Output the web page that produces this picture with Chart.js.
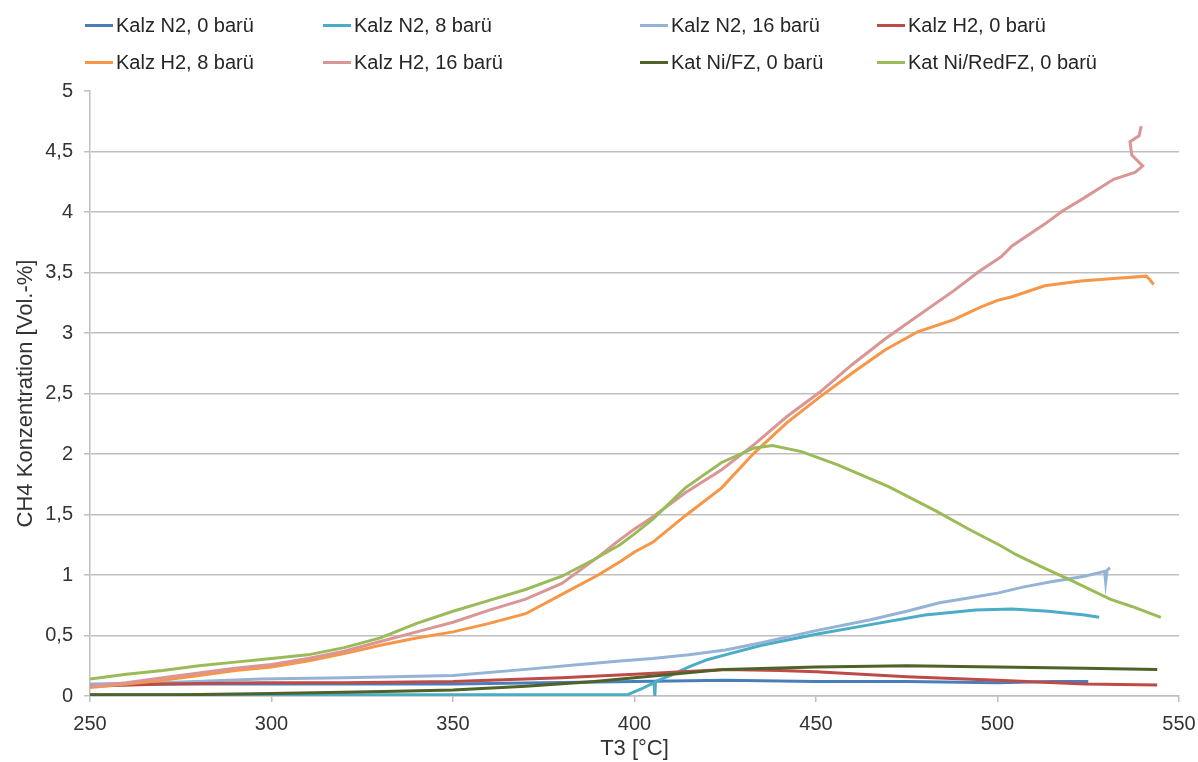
<!DOCTYPE html>
<html>
<head>
<meta charset="utf-8">
<script src="https://cdn.jsdelivr.net/npm/chart.js@4.4.1/dist/chart.umd.min.js"></script>
<style>
  body { margin: 0; background: #fff; font-family: 'Liberation Sans', Arial, sans-serif; }
  #wrap { position: relative; width: 1198px; height: 762px; }
  .leg { position: absolute; height: 24px; font-size: 20px; line-height: 24px; color: #262626; white-space: nowrap; display: flex; align-items: center; }
  .leg .sw { display: inline-block; width: 28px; height: 3px; margin-right: 3px; }
</style>
</head>
<body>
<div id="wrap">
  <canvas id="ch4Chart"></canvas>
  <div id="legend"></div>
</div>
<script>
// tick labels
const xTicks = [250, 300, 350, 400, 450, 500, 550];
const yTicks = [0, 0.5, 1, 1.5, 2, 2.5, 3, 3.5, 4, 4.5, 5];

const seriesLabels = [
    'Kalz N2, 0 barü', 'Kalz N2, 8 barü', 'Kalz N2, 16 barü', 'Kalz H2, 0 barü',
    'Kalz H2, 8 barü', 'Kalz H2, 16 barü', 'Kat Ni/FZ, 0 barü', 'Kat Ni/RedFZ, 0 barü'
];
const seriesColors = ['#4A7EBB', '#4BACC6', '#95B3D7', '#BE4B48', '#F79646', '#D99694', '#4F6228', '#9BBB59'];

// Kalz N2, 0 barü
const tN2_0 = [250, 275, 300, 325, 350, 375, 400, 425, 450, 475, 500, 515, 525];
const cN2_0 = [0.09, 0.10, 0.10, 0.10, 0.10, 0.11, 0.12, 0.13, 0.12, 0.12, 0.11, 0.12, 0.12];

// Kalz N2, 8 barü
const tN2_8 = [250, 300, 350, 398, 402, 405.4, 405.6, 405.8, 410, 415, 420, 425, 435, 450, 465, 480, 494, 504, 514, 524, 528];
const cN2_8 = [0.01, 0.01, 0.01, 0.01, 0.06, 0.11, 0.0, 0.12, 0.17, 0.24, 0.30, 0.34, 0.42, 0.51, 0.59, 0.67, 0.71, 0.72, 0.70, 0.67, 0.65];

// Kalz N2, 16 barü
const tN2_16 = [250, 270, 297, 320, 350, 370, 385, 396, 405, 415, 425, 435, 450, 465, 475, 484, 492, 500, 507, 514, 524, 529.5, 529.8, 530.2, 531];
const cN2_16 = [0.10, 0.11, 0.14, 0.15, 0.17, 0.22, 0.26, 0.29, 0.31, 0.34, 0.38, 0.44, 0.54, 0.63, 0.70, 0.77, 0.81, 0.85, 0.90, 0.94, 0.99, 1.03, 0.94, 1.04, 1.06];

// Kalz H2, 0 barü
const tH2_0 = [250, 270, 297, 320, 350, 380, 400, 425, 440, 450, 475, 500, 524, 544];
const cH2_0 = [0.08, 0.10, 0.11, 0.11, 0.12, 0.15, 0.18, 0.22, 0.21, 0.20, 0.16, 0.13, 0.10, 0.09];

// Kalz H2, 8 barü
const tH2_8 = [250, 260, 270, 280, 290, 300, 310, 320, 330, 340, 350, 360, 370, 380, 390, 396, 400, 405, 414, 424, 433, 442, 451, 460, 469, 478, 488, 495, 500, 504, 513, 523, 532, 541, 542, 543];
const cH2_8 = [0.07, 0.10, 0.13, 0.17, 0.21, 0.24, 0.29, 0.35, 0.42, 0.48, 0.53, 0.60, 0.68, 0.84, 1.00, 1.11, 1.19, 1.27, 1.49, 1.72, 2.01, 2.26, 2.47, 2.67, 2.86, 3.01, 3.11, 3.21, 3.27, 3.30, 3.39, 3.43, 3.45, 3.47, 3.44, 3.40];

// Kalz H2, 16 barü
const tH2_16 = [250, 260, 270, 280, 290, 300, 310, 320, 330, 340, 350, 360, 370, 380, 390, 395, 400, 405, 414, 424, 433, 442, 451, 460, 469, 478, 488, 495, 501, 504, 513, 518, 523, 532, 538, 540, 537, 536.5, 539, 539.6];
const cH2_16 = [0.08, 0.11, 0.15, 0.19, 0.23, 0.26, 0.31, 0.37, 0.45, 0.53, 0.61, 0.71, 0.80, 0.93, 1.15, 1.27, 1.38, 1.48, 1.68, 1.87, 2.08, 2.31, 2.51, 2.74, 2.95, 3.14, 3.35, 3.51, 3.63, 3.72, 3.90, 4.01, 4.10, 4.27, 4.33, 4.38, 4.47, 4.58, 4.63, 4.71];

// Kat Ni/FZ, 0 barü
const tNiFZ = [250, 275, 300, 320, 334, 350, 370, 389, 400, 425, 450, 475, 500, 524, 544];
const cNiFZ = [0.01, 0.01, 0.02, 0.03, 0.04, 0.05, 0.08, 0.12, 0.15, 0.22, 0.24, 0.25, 0.24, 0.23, 0.22];

// Kat Ni/RedFZ, 0 barü
const tNiRed = [250, 260, 270, 280, 290, 300, 310, 320, 330, 340, 350, 360, 370, 380, 389, 396, 400, 405, 414, 424, 433, 438, 446, 456, 470, 483, 492, 501, 505, 512, 520, 531, 537, 545];
const cNiRed = [0.14, 0.18, 0.21, 0.25, 0.28, 0.31, 0.34, 0.40, 0.48, 0.60, 0.70, 0.79, 0.88, 0.99, 1.13, 1.25, 1.34, 1.46, 1.72, 1.93, 2.05, 2.07, 2.02, 1.91, 1.73, 1.53, 1.38, 1.24, 1.17, 1.07, 0.96, 0.80, 0.74, 0.65];

const seriesT = [tN2_0, tN2_8, tN2_16, tH2_0, tH2_8, tH2_16, tNiFZ, tNiRed];
const seriesC = [cN2_0, cN2_8, cN2_16, cH2_0, cH2_8, cH2_16, cNiFZ, cNiRed];

const FONT = "'Liberation Sans', Arial, sans-serif";
const TEXT = '#333333';
const GRID = '#BFBFBF';

const datasets = seriesLabels.map((label, i) => ({
    label: label,
    data: seriesT[i].map((t, k) => ({ x: t, y: seriesC[i][k] })),
    borderColor: seriesColors[i],
    backgroundColor: seriesColors[i],
    borderWidth: 3,
    pointRadius: 0,
    showLine: true,
    tension: 0,
    order: seriesLabels.length - i  // later series on top, like Excel
}));

// legend as html, laid out in Excel-like columns
const legCols = [85, 323, 640, 877];
const legRows = [13, 50];
const legend = document.getElementById('legend');
seriesLabels.forEach((label, i) => {
    const el = document.createElement('div');
    el.className = 'leg';
    el.style.left = legCols[i % 4] + 'px';
    el.style.top = legRows[Math.floor(i / 4)] + 'px';
    el.innerHTML = `<span class="sw" style="background:${seriesColors[i]}"></span>${label}`;
    legend.appendChild(el);
});

const fmt = v => String(v).replace('.', ',');

new Chart(document.getElementById('ch4Chart'), {
    type: 'scatter',
    data: { datasets: datasets },
    options: {
        responsive: true,
        maintainAspectRatio: false,
        animation: false,
        layout: { padding: { top: 91, right: 19, bottom: 0, left: 0 } },
        plugins: { legend: { display: false }, tooltip: { enabled: false } },
        scales: {
            x: {
                type: 'linear',
                min: 250, max: 550,
                afterBuildTicks: s => { s.ticks = xTicks.map(v => ({ value: v })); },
                afterFit: s => { s.height = 66; s.paddingLeft = 0; s.paddingRight = 0; },
                grid: { drawOnChartArea: false, drawTicks: true, tickLength: 6, color: GRID, lineWidth: 1.5 },
                border: { color: GRID, width: 1.5 },
                ticks: { color: TEXT, font: { family: FONT, size: 20 }, padding: 10, maxRotation: 0, callback: fmt },
                title: { display: true, text: 'T3 [°C]', color: TEXT, font: { family: FONT, size: 22 }, padding: { top: 4, bottom: 0 } }
            },
            y: {
                type: 'linear',
                min: 0, max: 5,
                afterBuildTicks: s => { s.ticks = yTicks.map(v => ({ value: v })); },
                afterFit: s => { s.width = 90; s.paddingTop = 0; s.paddingBottom = 0; },
                grid: {
                    color: ctx => (ctx.tick && ctx.tick.value === 5) ? 'rgba(0,0,0,0)' : GRID,
                    tickColor: GRID,
                    tickLength: 6,
                    lineWidth: 1.5
                },
                border: { color: GRID, width: 1.5 },
                ticks: { color: TEXT, font: { family: FONT, size: 20 }, padding: 11, callback: fmt },
                title: { display: true, text: 'CH4 Konzentration [Vol.-%]', color: TEXT, font: { family: FONT, size: 22 }, padding: { top: 13, bottom: 0 } }
            }
        }
    }
});
</script>
</body>
</html>
